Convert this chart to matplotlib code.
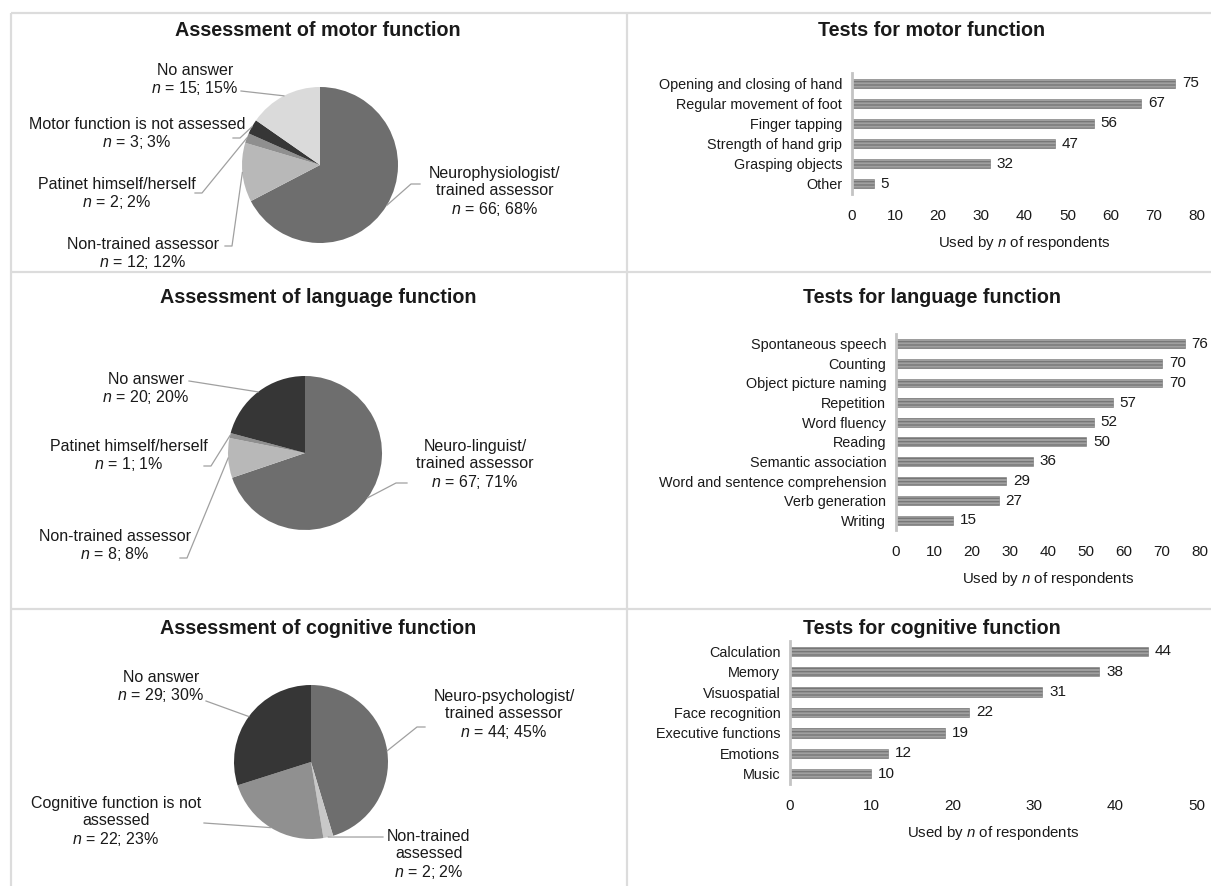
import numpy as np
import matplotlib
matplotlib.use("Agg")
import matplotlib.pyplot as plt

plt.rcParams['font.family'] = ['Liberation Sans', 'DejaVu Sans']
plt.rcParams['mathtext.fontset'] = 'custom'
plt.rcParams['mathtext.it'] = 'Liberation Sans:italic'
plt.rcParams['mathtext.rm'] = 'Liberation Sans'
plt.rcParams['hatch.linewidth'] = 1.0

# ---------------- data ----------------
motor_pie_labels = ["Neurophysiologist/\ntrained assessor", "Non-trained assessor",
                    "Patinet himself/herself", "Motor function is not assessed", "No answer"]
motor_pie_n = [66, 12, 2, 3, 15]
motor_pie_pct = [68, 12, 2, 3, 15]

lang_pie_labels = ["Neuro-linguist/\ntrained assessor", "Non-trained assessor",
                   "Patinet himself/herself", "No answer"]
lang_pie_n = [67, 8, 1, 20]
lang_pie_pct = [71, 8, 1, 20]

cog_pie_labels = ["Neuro-psychologist/\ntrained assessor", "Non-trained\nassessed",
                  "Cognitive function is not\nassessed", "No answer"]
cog_pie_n = [44, 2, 22, 29]
cog_pie_pct = [45, 2, 23, 30]

motor_tests = ["Opening and closing of hand", "Regular movement of foot", "Finger tapping",
               "Strength of hand grip", "Grasping objects", "Other"]
motor_counts = [75, 67, 56, 47, 32, 5]

lang_tests = ["Spontaneous speech", "Counting", "Object picture naming", "Repetition",
              "Word fluency", "Reading", "Semantic association",
              "Word and sentence comprehension", "Verb generation", "Writing"]
lang_counts = [76, 70, 70, 57, 52, 50, 36, 29, 27, 15]

cog_tests = ["Calculation", "Memory", "Visuospatial", "Face recognition",
             "Executive functions", "Emotions", "Music"]
cog_counts = [44, 38, 31, 22, 19, 12, 10]

W, H = 1211, 886
fig = plt.figure(figsize=(W / 100, H / 100), dpi=100)
ax0 = fig.add_axes([0, 0, 1, 1])
ax0.set_xlim(0, W)
ax0.set_ylim(0, H)
ax0.axis('off')


def Y(y):
    return H - y


TXT = '#1a1a1a'
GRID = '#dcdcdc'
LEAD = '#a0a0a0'

# panel frame lines
for (x1, y1, x2, y2) in [(11, 13, W, 13), (11, 13, 11, H), (627, 13, 627, H),
                         (11, 272, W, 272), (11, 609, W, 609)]:
    ax0.plot([x1, x2], [Y(y1), Y(y2)], color=GRID, lw=1.6, solid_capstyle='butt')

# titles
titles = [("Assessment of motor function", 318, 30), ("Tests for motor function", 932, 30),
          ("Assessment of language function", 318, 297), ("Tests for language function", 932, 297),
          ("Assessment of cognitive function", 318, 628), ("Tests for cognitive function", 932, 628)]
for t, x, y in titles:
    ax0.text(x, Y(y), t, ha='center', va='center', fontsize=14.2, fontweight='bold', color=TXT)


def draw_pie(ns, pcts, labels, colors, center, r, label_specs):
    cx, cy = center
    ax0.pie(ns, colors=colors, startangle=90, counterclock=False,
            center=(cx, Y(cy)), radius=r, frame=True,
            wedgeprops=dict(linewidth=0))
    total = float(sum(ns))
    cum = 0.0
    for i, (n, p, lab) in enumerate(zip(ns, pcts, labels)):
        mid = (cum + n / 2.0) / total
        cum += n
        ang = np.deg2rad(90 - 360 * mid)
        ex, ey = cx + r * np.cos(ang), Y(cy) + r * np.sin(ang)
        tx, ty, pts = label_specs[i]
        text = lab + "\n" + r"$n$" + " = %d; %d%%" % (n, p)
        ax0.text(tx, Y(ty), text, ha='center', va='center', fontsize=11.5, color=TXT,
                 linespacing=1.12)
        xs = [q[0] for q in pts] + [ex]
        ys = [Y(q[1]) for q in pts] + [ey]
        ax0.plot(xs, ys, color=LEAD, lw=0.9)


# motor pie
draw_pie(motor_pie_n, motor_pie_pct, motor_pie_labels,
         ['#6e6e6e', '#b8b8b8', '#8f8f8f', '#363636', '#dadada'],
         (320, 165), 78,
         [(495, 192, [(420, 184), (411, 184)]),
          (143, 254, [(225, 246), (232, 246)]),
          (117, 194, [(195, 193), (202, 193)]),
          (137, 134, [(233, 138), (240, 138)]),
          (195, 80, [(241, 91)])])

# language pie
draw_pie(lang_pie_n, lang_pie_pct, lang_pie_labels,
         ['#6e6e6e', '#b8b8b8', '#8f8f8f', '#363636'],
         (305, 453), 77,
         [(475, 465, [(407, 483), (396, 483)]),
          (115, 546, [(180, 558), (187, 558)]),
          (129, 456, [(204, 466), (211, 466)]),
          (146, 389, [(189, 381)])])

# cognitive pie
draw_pie(cog_pie_n, cog_pie_pct, cog_pie_labels,
         ['#6e6e6e', '#c8c8c8', '#909090', '#363636'],
         (311, 762), 77,
         [(504, 715, [(425, 727), (417, 727)]),
          (429, 855, [(383, 837)]),
          (116, 822, [(204, 823)]),
          (161, 687, [(206, 701)])])


def draw_bars(cats, vals, x0, x1, xmax, top, bottom, ticks):
    ax = fig.add_axes([x0 / W, Y(bottom) / H, (x1 - x0) / W, (bottom - top) / H])
    ypos = np.arange(len(cats))
    ax.barh(ypos, vals, height=0.45, color='#a0a0a0', edgecolor='#777777',
            linewidth=0.4, hatch='-----')
    ax.set_ylim(len(cats) - 0.5, -0.5)
    ax.set_xlim(0, xmax)
    ax.set_yticks(ypos)
    ax.set_yticklabels(cats, fontsize=10.4, color=TXT)
    ax.set_xticks(ticks)
    ax.set_xticklabels([str(t) for t in ticks], fontsize=11, color=TXT)
    ax.tick_params(axis='both', length=0)
    ax.tick_params(axis='y', pad=7)
    ax.tick_params(axis='x', pad=11)
    for s in ['top', 'right', 'bottom']:
        ax.spines[s].set_visible(False)
    ax.spines['left'].set_color('#c4c4c4')
    ax.spines['left'].set_linewidth(2)
    for yv, v in zip(ypos, vals):
        ax.annotate(str(v), (v, yv), xytext=(5, 0), textcoords='offset points',
                    ha='left', va='center', fontsize=11, color=TXT)
    ax.set_xlabel(r"Used by $n$ of respondents", fontsize=10.8, color=TXT, labelpad=8)
    ax.patch.set_alpha(0)
    return ax


draw_bars(motor_tests, motor_counts, 852, 1197, 80, 73, 194, [0, 10, 20, 30, 40, 50, 60, 70, 80])
draw_bars(lang_tests, lang_counts, 896, 1200, 80, 334, 530, [0, 10, 20, 30, 40, 50, 60, 70, 80])
draw_bars(cog_tests, cog_counts, 790, 1197, 50, 641, 784, [0, 10, 20, 30, 40, 50])

ax0.set_xlim(0, W)
ax0.set_ylim(0, H)
fig.savefig("out.png", dpi=100)
